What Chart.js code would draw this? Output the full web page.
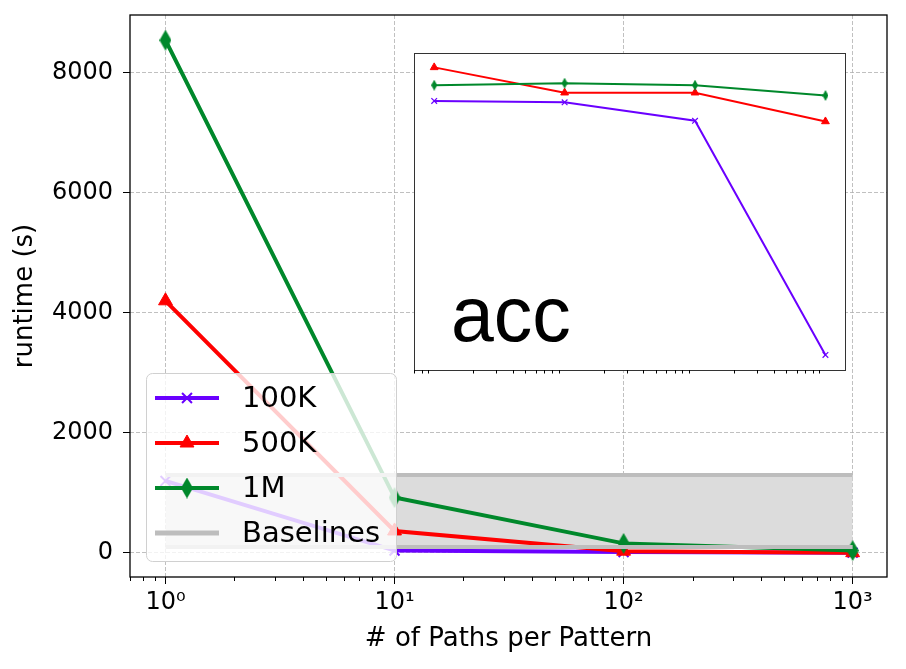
<!DOCTYPE html>
<html>
<head>
<meta charset="utf-8">
<script src="https://cdn.jsdelivr.net/npm/chart.js@4.4.0/dist/chart.umd.min.js"></script>
<style>
html, body { margin: 0; padding: 0; background: #fff; }
#wrap { position: relative; width: 906px; height: 669px; }
#main { position: absolute; left: 0; top: 0; }
#inset { position: absolute; left: 413px; top: 52px; }
</style>
</head>
<body>
<div id="wrap">
  <canvas id="main" width="906" height="669"></canvas>
  <canvas id="inset" width="434" height="326"></canvas>
</div>
<script>
// values
const pathsPerPattern = [1, 10, 100, 1000];
const xTickLabels = ['10⁰', '10¹', '10²', '10³'];
const yTicks = [0, 2000, 4000, 6000, 8000];
const seriesNames = ['100K', '500K', '1M'];
const runtime100K = [1200, 40, 15, 5];
const runtime500K = [4200, 367, 30, 5];
const runtime1M = [8540, 923, 160, 40];
const baselineLabel = 'Baselines';
const baselineX = [1, 1000];
const baselineHigh = [1300, 1300];
const baselineLow = [100, 100];
// inset (accuracy, no tick labels in the original)
const acc100K = [0.921, 0.919, 0.892, 0.550];
const acc500K = [0.970, 0.933, 0.933, 0.891];
const acc1M = [0.944, 0.947, 0.944, 0.929];

const PURPLE = '#6a00ff', RED = '#ff0000', GREEN = '#00882b', GREY = '#bdbdbd';
const FONT = "'DejaVu Sans', sans-serif";

// thin diamond marker ('d' in matplotlib)
function thinDiamond(w, h, color) {
  const c = document.createElement('canvas');
  c.width = w; c.height = h;
  const g = c.getContext('2d');
  g.fillStyle = color;
  g.beginPath();
  g.moveTo(w / 2, 0); g.lineTo(w, h / 2); g.lineTo(w / 2, h); g.lineTo(0, h / 2);
  g.closePath(); g.fill();
  return c;
}

function pts(xs, ys) { return xs.map((x, i) => ({ x: x, y: ys[i] })); }

function logMinor(min, max) {
  const out = [];
  for (let e = Math.floor(Math.log10(min)); e <= Math.ceil(Math.log10(max)); e++) {
    for (let m = 2; m <= 9; m++) {
      const v = m * Math.pow(10, e);
      if (v >= min && v <= max) out.push(v);
    }
  }
  return out;
}

function drawMinorTicks(chart, len) {
  const sc = chart.scales.x, ctx = chart.ctx, b = chart.chartArea.bottom;
  ctx.save();
  ctx.strokeStyle = '#000'; ctx.lineWidth = 1;
  logMinor(sc.min, sc.max).forEach(v => {
    const px = Math.round(sc.getPixelForValue(v)) + 0.5;
    ctx.beginPath(); ctx.moveTo(px, b); ctx.lineTo(px, b + len); ctx.stroke();
  });
  ctx.restore();
}

const xMin = Math.pow(10, -0.15), xMax = Math.pow(10, 3.15);

const diamondBig = thinDiamond(12, 21, GREEN);
const diamondSmall = thinDiamond(6, 11, GREEN);

const mainMarkers = [
  { pointStyle: 'crossRot', radius: 7, borderWidth: 2, color: PURPLE },
  { pointStyle: 'triangle', radius: 8, borderWidth: 1, color: RED },
  { pointStyle: diamondBig, radius: 10, borderWidth: 1, color: GREEN }
];

const mainExtras = {
  id: 'mainExtras',
  afterDraw(chart) {
    const ctx = chart.ctx, a = chart.chartArea;
    drawMinorTicks(chart, 4);
    ctx.save();
    ctx.strokeStyle = '#000'; ctx.lineWidth = 1.3;
    ctx.strokeRect(a.left, a.top, a.right - a.left, a.bottom - a.top);
    ctx.restore();

    // legend inside the axes
    const box = { x: 146.5, y: 373.5, w: 250, h: 188, r: 6 };
    ctx.save();
    ctx.beginPath();
    ctx.roundRect(box.x, box.y, box.w, box.h, box.r);
    ctx.fillStyle = 'rgba(255,255,255,0.8)';
    ctx.fill();
    ctx.strokeStyle = '#d0d0d0'; ctx.lineWidth = 1;
    ctx.stroke();
    const rows = [398, 443, 488, 533];
    const labels = seriesNames.concat([baselineLabel]);
    ctx.font = '29px ' + FONT;
    ctx.textBaseline = 'middle';
    labels.forEach((lab, i) => {
      const y = rows[i];
      const col = i < 3 ? mainMarkers[i].color : GREY;
      ctx.strokeStyle = col; ctx.lineWidth = i < 3 ? 4 : 5;
      ctx.beginPath(); ctx.moveTo(155, y); ctx.lineTo(219, y); ctx.stroke();
      if (i < 3) {
        const m = mainMarkers[i];
        ctx.fillStyle = col; ctx.strokeStyle = col; ctx.lineWidth = m.borderWidth;
        Chart.helpers.drawPoint(ctx, { pointStyle: m.pointStyle, radius: m.radius, rotation: 0, borderWidth: m.borderWidth }, 187, y);
      }
      ctx.fillStyle = '#000';
      ctx.fillText(lab, 242, y + 1);
    });
    ctx.restore();
  }
};

function lineSet(label, ys, m, order) {
  return {
    label: label, data: pts(pathsPerPattern, ys), order: order,
    borderColor: m.color, backgroundColor: m.color, borderWidth: 4,
    pointStyle: m.pointStyle, pointRadius: m.radius, pointBorderWidth: m.borderWidth,
    pointBackgroundColor: m.color, pointBorderColor: m.color, fill: false
  };
}

new Chart(document.getElementById('main'), {
  type: 'line',
  data: {
    datasets: [
      { label: 'bandHigh', data: pts(baselineX, baselineHigh), order: 10, borderWidth: 0,
        borderColor: 'rgba(0,0,0,0)', pointRadius: 0, fill: '+1', backgroundColor: '#dcdcdc' },
      { label: 'bandLow', data: pts(baselineX, baselineLow), order: 10, borderWidth: 0,
        borderColor: 'rgba(0,0,0,0)', pointRadius: 0, fill: false },
      lineSet(seriesNames[0], runtime100K, mainMarkers[0], 4),
      lineSet(seriesNames[1], runtime500K, mainMarkers[1], 3),
      lineSet(seriesNames[2], runtime1M, mainMarkers[2], 2),
      { label: baselineLabel, data: pts(baselineX, baselineHigh), order: 1, borderWidth: 4,
        borderColor: GREY, pointRadius: 0, fill: false },
      { label: baselineLabel + ' low', data: pts(baselineX, baselineLow), order: 1, borderWidth: 4,
        borderColor: GREY, pointRadius: 0, fill: false }
    ]
  },
  options: {
    responsive: false, animation: false, devicePixelRatio: 1,
    layout: { autoPadding: false, padding: { left: 0, top: 15, right: 19, bottom: 0 } },
    plugins: { legend: { display: false }, tooltip: { enabled: false } },
    scales: {
      x: {
        type: 'logarithmic', min: xMin, max: xMax,
        afterBuildTicks: s => { s.ticks = pathsPerPattern.map(v => ({ value: v })); },
        afterFit: s => { s.height = 92; s.paddingLeft = 0; s.paddingRight = 0; },
        ticks: {
          color: '#000', font: { family: FONT, size: 24 }, padding: 4, maxRotation: 0,
          callback: (v) => { const i = pathsPerPattern.indexOf(v); return i >= 0 ? xTickLabels[i] : ''; }
        },
        grid: { color: '#b0b0b0', lineWidth: 0.8, tickLength: 7, tickColor: '#000', tickWidth: 1 },
        border: { display: false, dash: [4, 2] },
        title: { display: true, text: '# of Paths per Pattern', color: '#000',
          font: { family: FONT, size: 26 }, padding: { top: 0, bottom: 14 } }
      },
      y: {
        type: 'linear', min: -400, max: 8960,
        afterBuildTicks: s => { s.ticks = yTicks.map(v => ({ value: v })); },
        afterFit: s => { s.width = 130; s.paddingTop = 0; s.paddingBottom = 0; },
        ticks: { color: '#000', font: { family: FONT, size: 24 }, padding: 10,
          callback: v => String(v) },
        grid: { color: '#b0b0b0', lineWidth: 0.8, tickLength: 7, tickColor: '#000', tickWidth: 1 },
        border: { display: false, dash: [4, 2] },
        title: { display: true, text: 'runtime (s)', color: '#000',
          font: { family: FONT, size: 26 }, padding: { top: 10, bottom: 0 } }
      }
    }
  },
  plugins: [mainExtras]
});

// ---- inset ----
const insetMarkers = [
  { pointStyle: 'crossRot', radius: 4, borderWidth: 1.2, color: PURPLE },
  { pointStyle: 'triangle', radius: 4.5, borderWidth: 1, color: RED },
  { pointStyle: diamondSmall, radius: 5, borderWidth: 1, color: GREEN }
];

const insetExtras = {
  id: 'insetExtras',
  beforeDraw(chart) {
    const a = chart.chartArea, ctx = chart.ctx;
    ctx.save();
    ctx.fillStyle = '#fff';
    ctx.fillRect(a.left, a.top, a.right - a.left, a.bottom - a.top);
    ctx.fillStyle = '#000';
    ctx.font = "77px 'Liberation Sans', Arial, sans-serif";
    ctx.textBaseline = 'alphabetic';
    ctx.fillText('acc', a.left + 37, a.top + 288);
    ctx.restore();
  },
  afterDraw(chart) {
    const a = chart.chartArea, ctx = chart.ctx;
    ctx.save();
    ctx.strokeStyle = '#333'; ctx.lineWidth = 1;
    ctx.strokeRect(a.left + 0.5, a.top + 0.5, a.right - a.left, a.bottom - a.top);
    ctx.restore();
    drawMinorTicks(chart, 3.5);
  }
};

function insetSet(label, ys, m, order) {
  return {
    label: label, data: pts(pathsPerPattern, ys), order: order,
    borderColor: m.color, backgroundColor: m.color, borderWidth: 2,
    pointStyle: m.pointStyle, pointRadius: m.radius, pointBorderWidth: m.borderWidth,
    pointBackgroundColor: m.color, pointBorderColor: m.color, fill: false
  };
}

new Chart(document.getElementById('inset'), {
  type: 'line',
  data: {
    datasets: [
      insetSet(seriesNames[0], acc100K, insetMarkers[0], 3),
      insetSet(seriesNames[1], acc500K, insetMarkers[1], 2),
      insetSet(seriesNames[2], acc1M, insetMarkers[2], 1)
    ]
  },
  options: {
    responsive: false, animation: false, devicePixelRatio: 1,
    layout: { autoPadding: false, padding: { left: 1, top: 1, right: 2, bottom: 0 } },
    plugins: { legend: { display: false }, tooltip: { enabled: false } },
    scales: {
      x: {
        type: 'logarithmic', min: xMin, max: xMax,
        afterFit: s => { s.height = 8; },
        ticks: { display: false },
        grid: { display: false },
        border: { display: false }
      },
      y: { type: 'linear', min: 0.528, max: 0.991, display: false }
    }
  },
  plugins: [insetExtras]
});
</script>
</body>
</html>
